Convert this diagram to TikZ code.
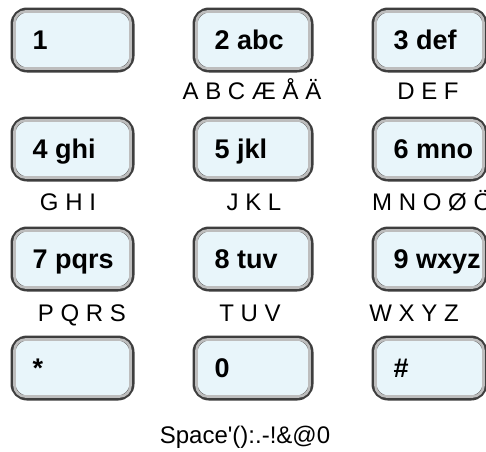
\documentclass[tikz,border=0pt]{standalone}
\usepackage{fontspec}
\setmainfont{Liberation Sans}
\definecolor{keyfill}{HTML}{E8F5FA}
\definecolor{keyedge}{HTML}{3E3E3E}
\definecolor{keyinner}{HTML}{BDBDBD}
\tikzset{
  keybox/.style={draw=keyedge, line width=5pt, fill=keyfill, rounded corners=14pt,
    minimum height=60pt, inner sep=0pt, anchor=north west},
  keyring/.style={draw=keyinner, line width=2.6pt, rounded corners=11pt},
  keytext/.style={font=\bfseries\fontsize{27}{27}\selectfont, inner sep=0pt, anchor=base west},
  sublabel/.style={font=\fontsize{24}{24}\selectfont, inner sep=0pt, anchor=base}
}
\newcommand{\mykey}[5]{%
  \node[keybox, minimum width=#4pt] (#1) at (#2,#3) {};
  \draw[keyring] ([shift={(4pt,-4pt)}]#1.north west) rectangle ([shift={(-4pt,4pt)}]#1.south east);
  \node[keytext] (#1t) at ([xshift=22pt,yshift=-9.5pt]#1.west) {#5};
}
\begin{document}
\begin{tikzpicture}[x=1pt,y=-1pt]
\useasboundingbox (0,0) rectangle (486,451);
\clip (0,0) rectangle (486,451);
% row 1
\mykey{k1}{10.5}{7.5}{119}{1}
\mykey{k2}{192.5}{7.5}{116}{2 abc}
\mykey{k3}{371.5}{7.5}{111}{3 def}
% row 2
\mykey{k4}{10.5}{116.5}{119}{4 ghi}
\mykey{k5}{192.5}{116.5}{116}{5 jkl}
\mykey{k6}{371.5}{116.5}{111}{6 mno}
% row 3
\mykey{k7}{10.5}{226.5}{119}{7 pqrs}
\mykey{k8}{192.5}{226.5}{116}{8 tuv}
\mykey{k9}{371.5}{226.5}{111}{9 wxyz}
% row 4
\mykey{ks}{10.5}{335.5}{119}{*}
\mykey{k0}{192.5}{335.5}{116}{0}
\mykey{kh}{371.5}{335.5}{111}{\#}
% sub labels
\node[sublabel] (l2) at (252,99) {A B C Æ Å Ä};
\node[sublabel] (l3) at (428,99) {D E F};
\node[sublabel] (l4) at (68,210) {G H I};
\node[sublabel] (l5) at (254,210) {J K L};
\node[sublabel, anchor=base west] (l6) at (372,210) {M N O Ø Ö};
\node[sublabel] (l7) at (82,321) {P Q R S};
\node[sublabel] (l8) at (250,321) {T U V};
\node[sublabel] (l9) at (414,321) {W X Y Z};
\node[sublabel] (l0) at (245,443) {Space\textquotesingle():.-!\&@0};
\end{tikzpicture}
\end{document}
